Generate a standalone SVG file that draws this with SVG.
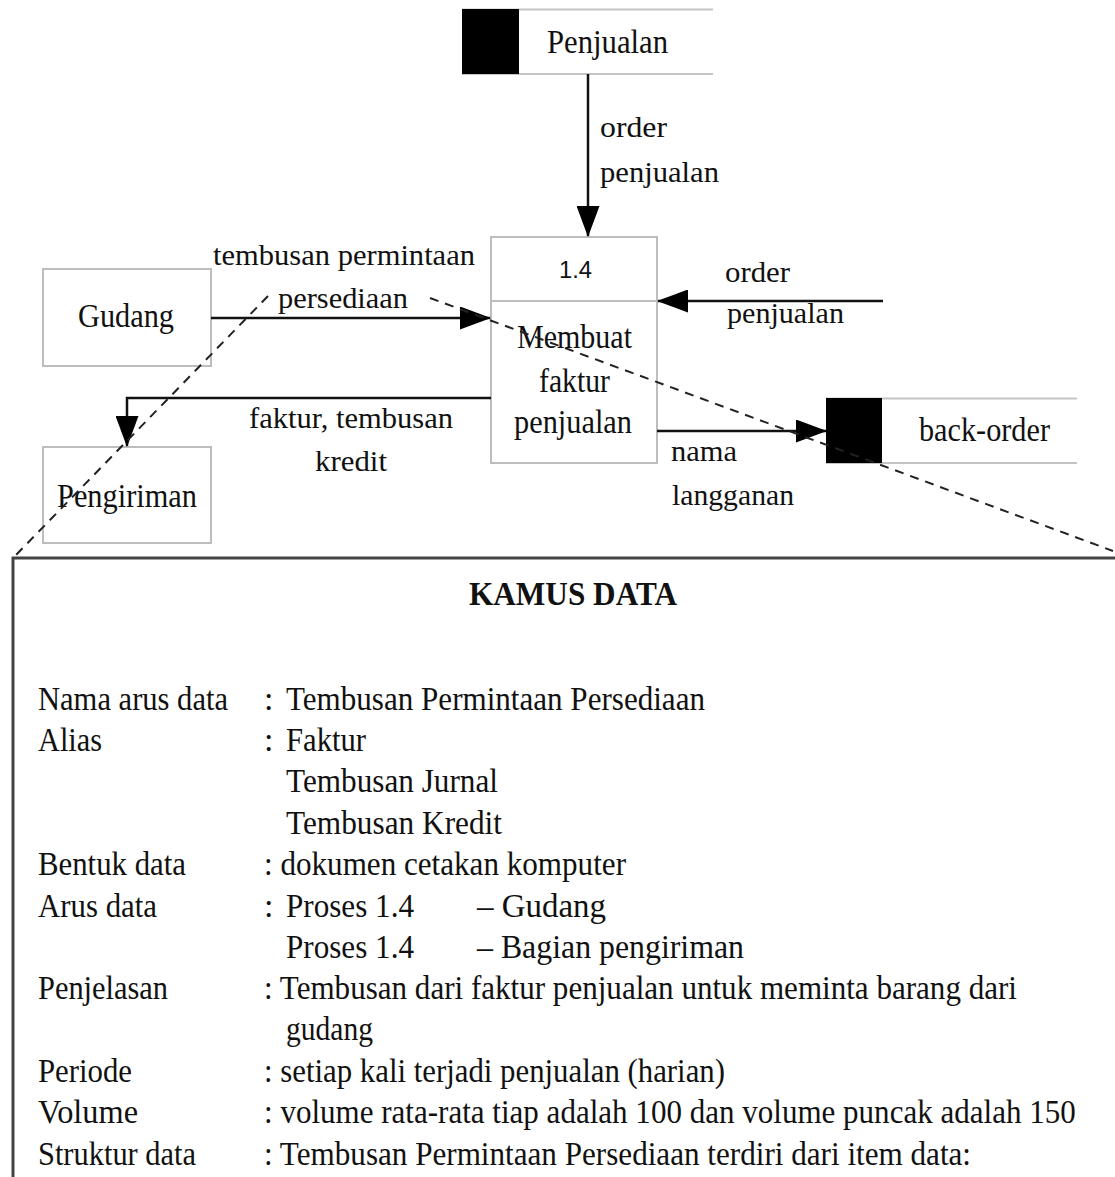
<svg xmlns="http://www.w3.org/2000/svg" width="1115" height="1177" viewBox="0 0 1115 1177">
<style>
.node{fill:#fff;stroke:#bdbdbd;stroke-width:2}
.store{stroke:#c4c4c4;stroke-width:2;fill:none}
.blk{fill:#000}
.t{font-family:"Liberation Serif","Times New Roman",serif;font-size:34px;fill:#111}
.lb{font-family:"Liberation Serif","Times New Roman",serif;font-size:30px;fill:#111}
.s{font-family:"Liberation Sans",Arial,sans-serif;font-size:23px;fill:#111}
.b{font-family:"Liberation Serif","Times New Roman",serif;font-size:34px;font-weight:bold;fill:#111}
.flow{stroke:#111;stroke-width:2.5;fill:none;marker-end:url(#ah)}
.dash{stroke:#222;stroke-width:2;stroke-dasharray:9 7;fill:none}
.frame{stroke:#444;stroke-width:3;fill:none}
</style>
<defs>
<marker id="ah" viewBox="0 0 31 23" refX="30" refY="11.5" markerWidth="31" markerHeight="23" markerUnits="userSpaceOnUse" orient="auto">
<path d="M0,0 L31,11.5 L0,23 z" fill="#000"/>
</marker>
</defs>
<rect width="1115" height="1177" fill="#fff"/>

<g id="store-penjualan">
<line class="store" x1="462" y1="9.5" x2="713" y2="9.5"/>
<line class="store" x1="462" y1="74" x2="713" y2="74"/>
<rect class="blk" x="462" y="9" width="57" height="65"/>
<text class="t" x="547" y="53" textLength="121" lengthAdjust="spacingAndGlyphs">Penjualan</text>
</g>

<g id="process-1-4">
<rect class="node" x="491" y="237" width="166" height="226"/>
<line class="node" x1="491" y1="301" x2="657" y2="301"/>
<text class="s" x="559" y="278" textLength="33" lengthAdjust="spacingAndGlyphs">1.4</text>
<text class="t" x="517" y="348" textLength="115" lengthAdjust="spacingAndGlyphs">Membuat</text>
<text class="t" x="539" y="392" textLength="71" lengthAdjust="spacingAndGlyphs">faktur</text>
<text class="t" x="514" y="433" textLength="118" lengthAdjust="spacingAndGlyphs">penjualan</text>
</g>

<g id="gudang">
<rect class="node" x="43" y="269" width="168" height="97"/>
<text class="t" x="78" y="327" textLength="96" lengthAdjust="spacingAndGlyphs">Gudang</text>
</g>

<g id="pengiriman">
<rect class="node" x="43" y="447" width="168" height="96"/>
<text class="t" x="57" y="507" textLength="140" lengthAdjust="spacingAndGlyphs">Pengiriman</text>
</g>

<g id="store-back-order">
<line class="store" x1="826" y1="398.5" x2="1077" y2="398.5"/>
<line class="store" x1="826" y1="463" x2="1077" y2="463"/>
<rect class="blk" x="826" y="398" width="56" height="65"/>
<text class="t" x="919" y="441" textLength="131" lengthAdjust="spacingAndGlyphs">back-order</text>
</g>

<g id="connectors">
<line class="flow" x1="588" y1="74" x2="588" y2="236"/>
<text class="lb" x="600" y="137" textLength="67" lengthAdjust="spacingAndGlyphs">order</text>
<text class="lb" x="600" y="182" textLength="119" lengthAdjust="spacingAndGlyphs">penjualan</text>

<line class="flow" x1="211" y1="318" x2="490" y2="318"/>
<text class="lb" x="213" y="265" textLength="262" lengthAdjust="spacingAndGlyphs">tembusan permintaan</text>
<text class="lb" x="278" y="308" textLength="130" lengthAdjust="spacingAndGlyphs">persediaan</text>

<line class="flow" x1="883" y1="301" x2="658" y2="301"/>
<text class="lb" x="725" y="282" textLength="65" lengthAdjust="spacingAndGlyphs">order</text>
<text class="lb" x="727" y="323" textLength="117" lengthAdjust="spacingAndGlyphs">penjualan</text>

<polyline class="flow" points="491,398 127,398 127,446"/>
<text class="lb" x="249" y="428" textLength="204" lengthAdjust="spacingAndGlyphs">faktur, tembusan</text>
<text class="lb" x="315" y="471" textLength="72" lengthAdjust="spacingAndGlyphs">kredit</text>

<line class="flow" x1="657" y1="431" x2="826" y2="431"/>
<text class="lb" x="671" y="461" textLength="66" lengthAdjust="spacingAndGlyphs">nama</text>
<text class="lb" x="672" y="505" textLength="122" lengthAdjust="spacingAndGlyphs">langganan</text>
</g>

<g id="callout">
<line class="dash" x1="268" y1="296" x2="14" y2="557"/>
<line class="dash" x1="430" y1="298" x2="1113" y2="551"/>
</g>

<g id="kamus-data">
<path class="frame" d="M13,1177 L13,558 L1115,558"/>
<text class="b" x="469" y="605" textLength="208" lengthAdjust="spacingAndGlyphs">KAMUS DATA</text>

<text class="t" x="38" y="710" textLength="190" lengthAdjust="spacingAndGlyphs">Nama arus data</text>
<text class="t" x="264" y="710">:</text>
<text class="t" x="286" y="710" textLength="419" lengthAdjust="spacingAndGlyphs">Tembusan Permintaan Persediaan</text>

<text class="t" x="38" y="751" textLength="64" lengthAdjust="spacingAndGlyphs">Alias</text>
<text class="t" x="264" y="751">:</text>
<text class="t" x="286" y="751" textLength="80" lengthAdjust="spacingAndGlyphs">Faktur</text>
<text class="t" x="286" y="792" textLength="212" lengthAdjust="spacingAndGlyphs">Tembusan Jurnal</text>
<text class="t" x="286" y="834" textLength="216" lengthAdjust="spacingAndGlyphs">Tembusan Kredit</text>

<text class="t" x="38" y="875" textLength="148" lengthAdjust="spacingAndGlyphs">Bentuk data</text>
<text class="t" x="264" y="875" textLength="362" lengthAdjust="spacingAndGlyphs">: dokumen cetakan komputer</text>

<text class="t" x="38" y="917" textLength="119" lengthAdjust="spacingAndGlyphs">Arus data</text>
<text class="t" x="264" y="917">:</text>
<text class="t" x="286" y="917" textLength="128" lengthAdjust="spacingAndGlyphs">Proses 1.4</text>
<text class="t" x="477" y="917" textLength="129" lengthAdjust="spacingAndGlyphs">– Gudang</text>
<text class="t" x="286" y="958" textLength="128" lengthAdjust="spacingAndGlyphs">Proses 1.4</text>
<text class="t" x="477" y="958" textLength="267" lengthAdjust="spacingAndGlyphs">– Bagian pengiriman</text>

<text class="t" x="38" y="999" textLength="130" lengthAdjust="spacingAndGlyphs">Penjelasan</text>
<text class="t" x="264" y="999" textLength="753" lengthAdjust="spacingAndGlyphs">: Tembusan dari faktur penjualan untuk meminta barang dari</text>
<text class="t" x="286" y="1040" textLength="87" lengthAdjust="spacingAndGlyphs">gudang</text>

<text class="t" x="38" y="1082" textLength="94" lengthAdjust="spacingAndGlyphs">Periode</text>
<text class="t" x="264" y="1082" textLength="461" lengthAdjust="spacingAndGlyphs">: setiap kali terjadi penjualan (harian)</text>

<text class="t" x="38" y="1123" textLength="100" lengthAdjust="spacingAndGlyphs">Volume</text>
<text class="t" transform="translate(264,1123) scale(0.85,1)" x="0" y="0" textLength="955" lengthAdjust="spacingAndGlyphs">: volume rata-rata tiap adalah 100 dan volume puncak adalah 150</text>

<text class="t" x="38" y="1165" textLength="158" lengthAdjust="spacingAndGlyphs">Struktur data</text>
<text class="t" x="264" y="1165" textLength="707" lengthAdjust="spacingAndGlyphs">: Tembusan Permintaan Persediaan terdiri dari item data:</text>
</g>
</svg>
